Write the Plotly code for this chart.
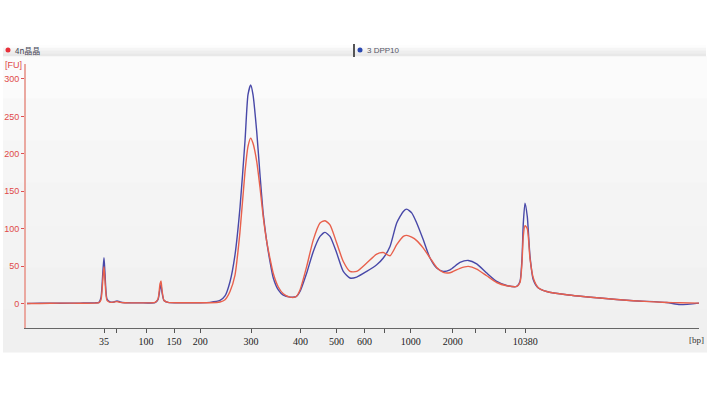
import plotly.graph_objects as go

# migration position (arbitrary units along the electropherogram time axis)
migration = [1, 14, 34, 54, 69, 73, 75, 77, 78, 79, 81, 84, 88, 91, 94, 99, 114, 129, 132, 134,
             135, 136, 138, 142, 154, 174, 184, 194, 199, 204, 209, 214, 219, 222, 224.7, 227,
             230.7, 234, 237.3, 240.7, 244, 247.3, 252.3, 257.3, 264, 270, 274, 280.7, 287.3,
             294, 299, 304, 310.7, 317.3, 324, 330.7, 340.7, 350.7, 357.3, 364, 370.7, 377.3,
             380.7, 385.7, 390.7, 397.3, 404, 410.7, 417.3, 424, 434, 442.3, 450.7, 460.7,
             470.7, 480.7, 490.7, 494, 496, 497.3, 499, 501.3, 504, 507.3, 512.3, 520.7, 540.7,
             574, 607.3, 640.7, 654, 673]

fu_dpp10 = [0, 0.5, 0.3, 0.5, 0.8, 1.5, 8, 45, 61, 40, 6, 2, 2, 3.5, 2, 1, 0.8, 1.2, 5, 20,
            25, 15, 4, 1.5, 0.8, 1, 1.5, 4, 10, 29, 65, 128, 217, 279, 292, 279,
            230, 172, 119, 83, 56, 34, 18, 11, 8.5, 9, 16, 40.6, 69.5,
            89.6, 95, 89.6, 67.4, 42.8, 34, 35.3, 42.8, 51.7, 60.7, 76.2, 107.5, 123,
            126, 121, 107.5, 85, 60.7, 47.3, 42.8, 45, 54.8, 57.5, 53, 40.6,
            29.4, 24, 22.7, 29.4, 60, 107, 134, 116, 63, 31.7, 20.6, 16, 11.6,
            7.2, 3.6, 1.3, -1.5, 0.5]

fu_4n = [0, 0, 0.5, 0.3, 0.5, 1, 5, 35, 49, 30, 4, 1.5, 2, 2.5, 1.5, 1, 0.8, 1.5, 6, 26,
         30, 18, 4, 1.5, 1, 1, 1, 2, 5, 16, 38, 96, 176, 210, 221, 214,
         190, 155, 115, 83, 60, 40, 22, 13, 8.5, 9, 18, 49.5, 85,
         107.5, 110.6, 105, 80.7, 56, 42.8, 42.8, 54, 66, 68, 63.8, 78.5, 89.6,
         91, 88.5, 84, 74, 61, 48, 41.5, 41, 47, 49.5, 46, 37,
         28, 23.7, 22.7, 28, 55, 90, 104, 100, 60, 34, 21, 16, 11.6,
         7.2, 3.6, 1.3, 1, 0.5]

# size-ladder tick positions on the migration axis and their bp labels
tick_pos = [78, 90.5, 120, 148, 174.3, 225, 274.5, 310.5, 338.5, 358.3, 384.7, 426.7, 449, 479.5, 499.3]
tick_txt = ["35", "", "100", "150", "200", "300", "400", "500", "600", "", "1000", "2000", "", "", "10380"]

y_ticks = [0, 50, 100, 150, 200, 250, 300]

assert len(migration) == len(fu_dpp10) == len(fu_4n)

W, H = 707, 397
ML, MR, MT, MB = 26, 8, 64, 69
PW, PH = W - ML - MR, H - MT - MB


def px(x):
    return (x - ML) / PW


def py(y):
    return (H - MB - y) / PH


fig = go.Figure()
fig.add_trace(go.Scatter(x=migration, y=fu_dpp10, mode="lines", name="3 DPP10",
                         line=dict(color="#4848a8", width=1.4, shape="spline", smoothing=0.6)))
fig.add_trace(go.Scatter(x=migration, y=fu_4n, mode="lines", name="4n晶晶",
                         line=dict(color="#e8604c", width=1.4, shape="spline", smoothing=0.6)))

shapes = []
# panel background with a soft vertical gradient
bands = ["#fbfbfb", "#f8f8f8", "#f6f6f6", "#f4f4f4", "#f3f3f3", "#f1f1f1", "#f0f0f0"]
top, bot = 56, 352
step = (bot - top) / len(bands)
for i, c in enumerate(bands):
    shapes.append(dict(type="rect", xref="paper", yref="paper", layer="below",
                       x0=px(3), x1=px(707), y0=py(top + (i + 1) * step + 0.5), y1=py(top + i * step),
                       fillcolor=c, line=dict(width=0)))
# legend strip
strip = ["#fdfdfd", "#f5f5f5", "#eeeeee", "#e8e8e8"]
for i, c in enumerate(strip):
    shapes.append(dict(type="rect", xref="paper", yref="paper", layer="below",
                       x0=px(3), x1=px(706), y0=py(45 + (i + 1) * 2.75 + 0.3), y1=py(45 + i * 2.75),
                       fillcolor=c, line=dict(width=0)))
# legend markers
shapes.append(dict(type="circle", xref="paper", yref="paper", x0=px(5.5), x1=px(10.5), y0=py(52.5), y1=py(47.5),
                   fillcolor="#e8303a", line=dict(width=0)))
shapes.append(dict(type="line", xref="paper", yref="paper", x0=px(354), x1=px(354), y0=py(57), y1=py(44),
                   line=dict(color="#555555", width=2)))
shapes.append(dict(type="circle", xref="paper", yref="paper", x0=px(357.5), x1=px(362.5), y0=py(52.5), y1=py(47.5),
                   fillcolor="#2a48b0", line=dict(width=0)))

annotations = [
    dict(text="4n晶晶", xref="paper", yref="paper", x=px(13), y=py(50.5), xanchor="left", yanchor="middle",
         showarrow=False, font=dict(family="Noto Sans CJK SC", size=8, color="#444455")),
    dict(text="3 DPP10", xref="paper", yref="paper", x=px(365), y=py(50.5), xanchor="left", yanchor="middle",
         showarrow=False, font=dict(family="Liberation Sans Narrow, Liberation Sans", size=8, color="#555566")),
    dict(text="[FU]", xref="paper", yref="paper", x=px(3), y=py(65), xanchor="left", yanchor="middle",
         showarrow=False, font=dict(family="Liberation Sans Narrow, Liberation Sans", size=9, color="#e04848")),
    dict(text="[bp]", xref="paper", yref="paper", x=px(706), y=py(340), xanchor="right", yanchor="middle",
         showarrow=False, font=dict(family="Liberation Serif", size=9, color="#333333")),
]

fig.update_layout(
    width=W, height=H,
    margin=dict(l=ML, r=MR, t=MT, b=MB, autoexpand=False),
    paper_bgcolor="white", plot_bgcolor="rgba(0,0,0,0)",
    showlegend=False,
    shapes=shapes, annotations=annotations,
    xaxis=dict(range=[0, 673], tickmode="array", tickvals=tick_pos, ticktext=tick_txt, automargin=False,
               showgrid=False, zeroline=False, showline=True, linecolor="#666666", linewidth=1,
               ticks="outside", ticklen=4, tickcolor="#555555", tickwidth=1,
               tickfont=dict(family="Liberation Serif", size=10, color="#222222")),
    yaxis=dict(range=[-32.8, 320], tickmode="array", tickvals=y_ticks, automargin=False,
               showgrid=False, zeroline=False, showline=True, linecolor="#eaa8a0", linewidth=2,
               ticks="outside", ticklen=3, tickcolor="#e05050", tickwidth=1,
               tickfont=dict(family="Liberation Sans Narrow, Liberation Sans", size=9, color="#e04848")),
)

fig.write_html("out.html", config={"displayModeBar": False},
               post_script="document.body.style.margin='0';")
